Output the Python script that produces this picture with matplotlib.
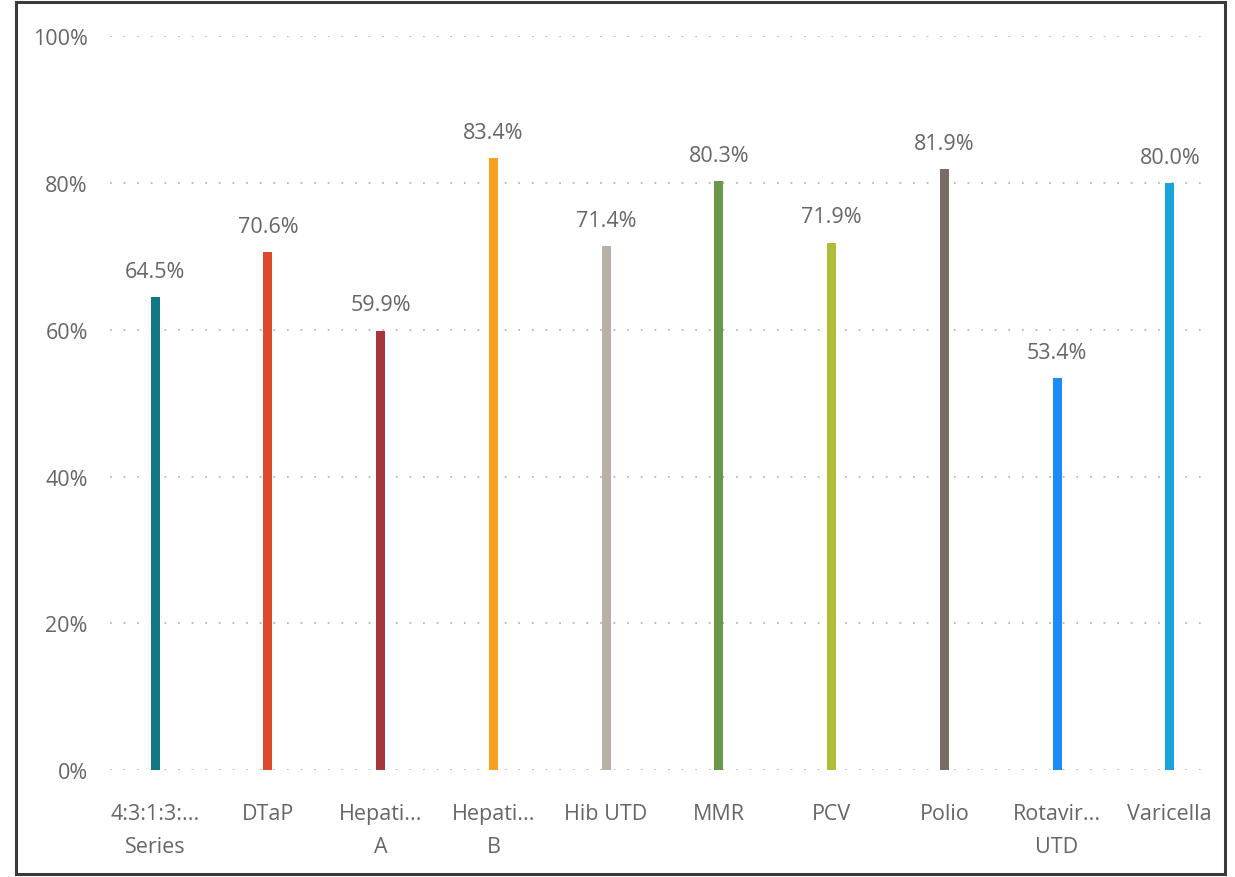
import matplotlib
matplotlib.use("Agg")
import matplotlib.pyplot as plt
from matplotlib.patches import Rectangle
from matplotlib.ticker import FuncFormatter

categories = ["4:3:1:3:...\nSeries", "DTaP", "Hepati...\nA", "Hepati...\nB", "Hib UTD",
              "MMR", "PCV", "Polio", "Rotavir...\nUTD", "Varicella"]
values = [64.5, 70.6, 59.9, 83.4, 71.4, 80.3, 71.9, 81.9, 53.4, 80.0]
colors = ["#117782", "#DC4A2C", "#A6363D", "#F9A11E", "#B6B1A4",
          "#6A984B", "#B2BD37", "#796C64", "#1C8CFD", "#17A3DC"]
yticks = [0, 20, 40, 60, 80, 100]

plt.rcParams['font.family'] = ['Open Sans', 'DejaVu Sans']
text_color = "#666666"
fs = 15.5

fig = plt.figure(figsize=(12.35, 8.78), dpi=100)
ax = fig.add_axes([110/1235, 107/878, 1097/1235, 734/878])

x = list(range(len(categories)))
ax.bar(x, values, width=0.08, color=colors, zorder=3)

for xi, v in zip(x, values):
    ax.annotate(f"{v:.1f}%", (xi, v), xytext=(0, 11), textcoords="offset points",
                ha="center", va="bottom", fontsize=fs, color=text_color)

ax.set_xlim(-0.40, 9.33)
ax.set_ylim(0, 100.05)
ax.set_yticks(yticks)
ax.yaxis.set_major_formatter(FuncFormatter(lambda v, p: f"{v:.0f}%"))
ax.set_xticks(x)
ax.set_xticklabels(categories, linespacing=1.75)

ax.tick_params(axis="both", length=0, labelsize=fs, labelcolor=text_color)
ax.tick_params(axis="y", pad=16)
ax.tick_params(axis="x", pad=24)

ax.grid(axis="y", color="#BDBBB9", linewidth=1.4, linestyle=(0, (0.9, 6.1)), zorder=0)
ax.grid(axis="x", visible=False)
for s in ax.spines.values():
    s.set_visible(False)

fig.add_artist(Rectangle((16/1235, 3/878), 1209/1235, 872/878, transform=fig.transFigure,
                         fill=False, edgecolor="#3A3A3A", linewidth=2.2))

fig.savefig("out.png", dpi=100)
